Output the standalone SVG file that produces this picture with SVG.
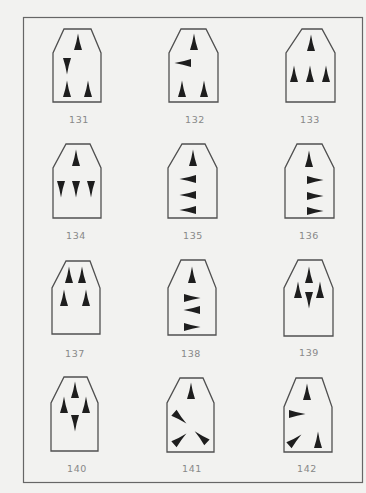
<svg xmlns="http://www.w3.org/2000/svg" xmlns:xlink="http://www.w3.org/1999/xlink" width="366" height="493" viewBox="0 0 366 493">
<style>
.bg{fill:#f2f2f0}
.frame{fill:none;stroke:#666;stroke-width:1.2}
.shape{fill:none;stroke:#505050;stroke-width:1.3;stroke-linejoin:miter}
.tri{fill:#1e1e1e}
.lbl{font-family:"DejaVu Sans","Liberation Sans",sans-serif;font-size:9.5px;fill:#888;text-anchor:middle;letter-spacing:0.6px}
</style>
<defs>
<path id="t" class="tri" d="M0,-8.5 Q1.3,0 4,8 L-4,8 Q-1.3,0 0,-8.5Z"/>
</defs>
<rect class="bg" x="0" y="0" width="366" height="493"/>
<rect class="frame" x="23.5" y="17.5" width="339" height="465"/>

<g id="n131">
<polygon class="shape" points="64,29 91,29 101,53 101,102 53,102 53,53"/>
<use href="#t" transform="translate(78,42)"/>
<use href="#t" transform="translate(67,66) rotate(180)"/>
<use href="#t" transform="translate(67,89)"/>
<use href="#t" transform="translate(88,89)"/>
<text class="lbl" x="79" y="122.5">131</text>
</g>
<g id="n132">
<polygon class="shape" points="181,29 206,29 218,53 218,102 169,102 169,53"/>
<use href="#t" transform="translate(194,42)"/>
<use href="#t" transform="translate(183,63) rotate(-90)"/>
<use href="#t" transform="translate(182,89)"/>
<use href="#t" transform="translate(204,89)"/>
<text class="lbl" x="195" y="122.5">132</text>
</g>
<g id="n133">
<polygon class="shape" points="302,29 322,29 335,53 335,102 286,102 286,53"/>
<use href="#t" transform="translate(311,43)"/>
<use href="#t" transform="translate(294,74)"/>
<use href="#t" transform="translate(310,74)"/>
<use href="#t" transform="translate(326,74)"/>
<text class="lbl" x="310" y="122.5">133</text>
</g>

<g id="n134">
<polygon class="shape" points="66,144 90,144 101,168 101,218 53,218 53,168"/>
<use href="#t" transform="translate(76,158)"/>
<use href="#t" transform="translate(61,189) rotate(180)"/>
<use href="#t" transform="translate(76,189) rotate(180)"/>
<use href="#t" transform="translate(91,189) rotate(180)"/>
<text class="lbl" x="76" y="239">134</text>
</g>
<g id="n135">
<polygon class="shape" points="182,144 205,144 217,168 217,218 168,218 168,168"/>
<use href="#t" transform="translate(193,158)"/>
<use href="#t" transform="translate(188,179) rotate(-90)"/>
<use href="#t" transform="translate(188,195) rotate(-90)"/>
<use href="#t" transform="translate(188,210) rotate(-90)"/>
<text class="lbl" x="193" y="239">135</text>
</g>
<g id="n136">
<polygon class="shape" points="297,144 322,144 334,168 334,218 285,218 285,168"/>
<use href="#t" transform="translate(309,159)"/>
<use href="#t" transform="translate(315,180) rotate(90)"/>
<use href="#t" transform="translate(315,196) rotate(90)"/>
<use href="#t" transform="translate(315,211) rotate(90)"/>
<text class="lbl" x="309" y="239">136</text>
</g>

<g id="n137">
<polygon class="shape" points="66,261 90,261 100,288 100,334 52,334 52,288"/>
<use href="#t" transform="translate(69,275)"/>
<use href="#t" transform="translate(82,275)"/>
<use href="#t" transform="translate(64,298)"/>
<use href="#t" transform="translate(86,298)"/>
<text class="lbl" x="75" y="356.5">137</text>
</g>
<g id="n138">
<polygon class="shape" points="181,260 205,260 216,288 216,335 168,335 168,288"/>
<use href="#t" transform="translate(192,275)"/>
<use href="#t" transform="translate(192,298) rotate(90)"/>
<use href="#t" transform="translate(192,310) rotate(-90)"/>
<use href="#t" transform="translate(192,327) rotate(90)"/>
<text class="lbl" x="191" y="356.5">138</text>
</g>
<g id="n139">
<polygon class="shape" points="298,260 322,260 333,288 333,336 284,336 284,288"/>
<use href="#t" transform="translate(309,275)"/>
<use href="#t" transform="translate(298,290)"/>
<use href="#t" transform="translate(320,290)"/>
<use href="#t" transform="translate(309,300) rotate(180)"/>
<text class="lbl" x="309" y="356">139</text>
</g>

<g id="n140">
<polygon class="shape" points="64,377 87,377 98,403 98,451 51,451 51,403"/>
<use href="#t" transform="translate(75,390)"/>
<use href="#t" transform="translate(64,405)"/>
<use href="#t" transform="translate(86,405)"/>
<use href="#t" transform="translate(75,423) rotate(180)"/>
<text class="lbl" x="77" y="471.5">140</text>
</g>
<g id="n141">
<polygon class="shape" points="180,378 203,378 214,403 214,452 167,452 167,403"/>
<use href="#t" transform="translate(191,391)"/>
<use href="#t" transform="translate(180,418) rotate(131)"/>
<use href="#t" transform="translate(180,439) rotate(49)"/>
<use href="#t" transform="translate(201,437) rotate(-48)"/>
<text class="lbl" x="192" y="471.5">141</text>
</g>
<g id="n142">
<polygon class="shape" points="296,378 322,378 332,407 332,452 284,452 284,407"/>
<use href="#t" transform="translate(307,392)"/>
<use href="#t" transform="translate(297,414) rotate(90)"/>
<use href="#t" transform="translate(295,440) rotate(49)"/>
<use href="#t" transform="translate(318,440)"/>
<text class="lbl" x="307" y="471.5">142</text>
</g>
<g id="connectors"/>
</svg>
